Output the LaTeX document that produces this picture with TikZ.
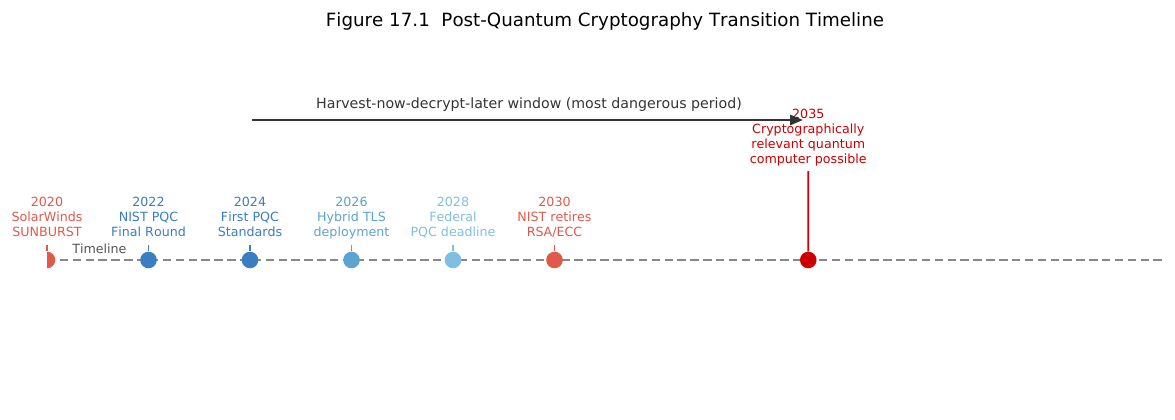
\documentclass[tikz,border=0pt]{standalone}
\usepackage{fontspec}
\setmainfont[Kerning=Off]{DejaVu Sans}
\usepackage{tikz}
\usetikzlibrary{arrows.meta}
\definecolor{myred}{RGB}{224,90,75}
\definecolor{mydarkred}{RGB}{204,0,0}
\definecolor{myblue}{RGB}{58,125,192}
\definecolor{mymidblue}{RGB}{91,164,207}
\definecolor{mylightblue}{RGB}{127,192,224}
\definecolor{axisgray}{RGB}{136,136,136}
\definecolor{textgray}{RGB}{85,85,85}
\definecolor{arrowgray}{RGB}{51,51,51}
\newcommand{\yearstep}{50.75}
\newcommand{\dotsize}{12pt}
\newcommand{\labelfont}{\fontsize{9.15}{10.8}\selectfont}
\tikzset{
    common/.style={inner sep=0pt, font=\labelfont},
    event/.style={common, anchor=south, align=center, text=#1},
    dot/.style={circle, fill=#1, inner sep=0pt, minimum size=\dotsize},
    stem/.style={line width=1.1pt, #1, shorten <=2.9pt},
    timeaxis/.style={axisgray, line width=1.5pt, dash pattern=on 6.1pt off 3.2pt},
    window/.style={-{Triangle[length=9.4pt, width=7.4pt]}, arrowgray, line width=1.6pt}
}

\begin{document}
\begin{tikzpicture}[x=0.0254cm, y=-0.0254cm]
        \useasboundingbox (0,0) rectangle (1175,420);

        \node[anchor=base, inner sep=0pt, font=\fontsize{13.2}{15.8}\selectfont] (title)
            at (605,26.5) {Figure 17.1\ \ Post-Quantum Cryptography Transition Timeline};

        % timeline axis
        \coordinate (tl-start) at (47,260);
        \coordinate (tl-end) at (1163,260);
        \draw[timeaxis] (tl-start) -- (tl-end);
        \node[common, anchor=base west, text=textgray] (tl-label) at (72,253.6) {Timeline};

        % event dots, the first one is cut at the axis edge
        \begin{scope}
            \clip (47,0) rectangle (1175,420);
            \path (tl-start)
                node[dot=myred] (d2020) {}
                to ++(2*\yearstep,0) node[dot=myblue] (d2022) {}
                to ++(2*\yearstep,0) node[dot=myblue] (d2024) {}
                to ++(2*\yearstep,0) node[dot=mymidblue] (d2026) {}
                to ++(2*\yearstep,0) node[dot=mylightblue] (d2028) {}
                to ++(2*\yearstep,0) node[dot=myred] (d2030) {}
                to ++(5*\yearstep,0) node[dot=mydarkred] (d2035) {};
        \end{scope}

        % event labels
        \path (47,241)
            node[event=myred] (l2020) {2020\\SolarWinds\\SUNBURST\strut}
            to ++(2*\yearstep,0) node[event=myblue] (l2022) {2022\\NIST PQC\\Final Round\strut}
            to ++(2*\yearstep,0) node[event=myblue] (l2024) {2024\\First PQC\\Standards\strut}
            to ++(2*\yearstep,0) node[event=mymidblue] (l2026) {2026\\Hybrid TLS\\deployment\strut}
            to ++(2*\yearstep,0) node[event=mylightblue] (l2028) {2028\\Federal\\PQC deadline\strut}
            to ++(2*\yearstep,0) node[event=myred] (l2030) {2030\\NIST retires\\RSA/ECC\strut};
        \node[event=mydarkred] (l2035) at (808.25,168)
            {2035\\Cryptographically\\relevant quantum\\computer possible\strut};

        \draw[stem=myred] (l2020.south) -- (d2020);
        \draw[stem=myblue] (l2022.south) -- (d2022);
        \draw[stem=myblue] (l2024.south) -- (d2024);
        \draw[stem=mymidblue] (l2026.south) -- (d2026);
        \draw[stem=mylightblue] (l2028.south) -- (d2028);
        \draw[stem=myred] (l2030.south) -- (d2030);
        \draw[stem=mydarkred, line width=1.4pt, shorten <=2.2pt] (l2035.south) -- (d2035);

        % harvest-now-decrypt-later window
        \coordinate (hn-start) at (252,120);
        \coordinate (hn-end) at (803,120);
        \draw[window] (hn-start) -- (hn-end);
        \node[anchor=base, inner sep=0pt, font=\fontsize{10.25}{12.3}\selectfont, text=arrowgray] (hn-label)
            at (529,109) {Harvest-now-decrypt-later window (most dangerous period)};
    \end{tikzpicture}
\end{document}
